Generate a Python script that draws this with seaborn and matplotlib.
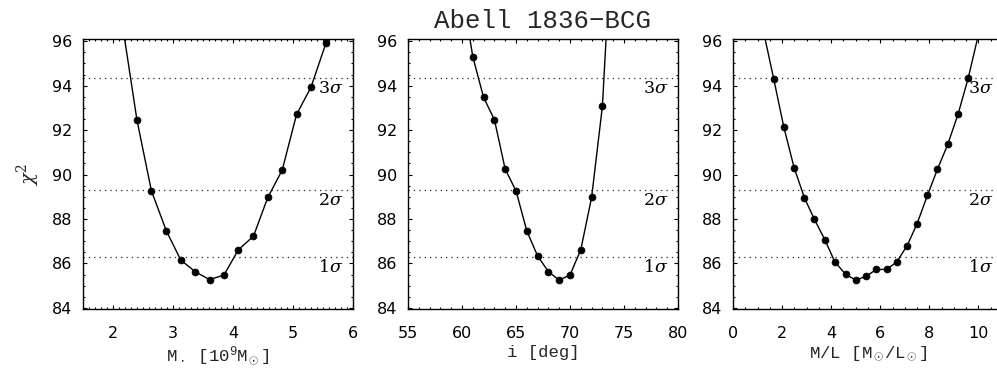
import matplotlib
matplotlib.use("Agg")
import matplotlib.pyplot as plt
import seaborn as sns
import numpy as np
from matplotlib.ticker import MultipleLocator, AutoMinorLocator

# ---- data ----
mbh_x = [2.16, 2.40, 2.64, 2.89, 3.13, 3.37, 3.61, 3.85, 4.09, 4.34, 4.58, 4.82, 5.06, 5.30, 5.55, 5.79]
mbh_chi2 = [96.7, 92.44, 89.27, 87.46, 86.15, 85.63, 85.27, 85.48, 86.62, 87.22, 88.97, 90.20, 92.71, 93.93, 95.92, 98.4]

inc_x = [60, 61, 62, 63, 64, 65, 66, 67, 68, 69, 70, 71, 72, 73, 74]
inc_chi2 = [98.3, 95.30, 93.47, 92.47, 90.24, 89.27, 87.46, 86.34, 85.63, 85.25, 85.48, 86.62, 88.97, 93.07, 102.0]

ml_x = [1.24, 1.66, 2.07, 2.49, 2.91, 3.32, 3.74, 4.15, 4.59, 5.01, 5.43, 5.84, 6.26, 6.67, 7.09,
        7.50, 7.92, 8.33, 8.75, 9.17, 9.58, 10.0]
ml_chi2 = [96.45, 94.30, 92.14, 90.31, 88.95, 87.98, 87.07, 86.07, 85.51, 85.25, 85.43, 85.73, 85.73, 86.07,
           86.79, 87.79, 89.06, 90.24, 91.36, 92.72, 94.33, 96.3]

sigma_levels = [86.3, 89.3, 94.35]
sigma_labels = [r"1$\sigma$", r"2$\sigma$", r"3$\sigma$"]

xlabels = [r"M$_\bullet$ [10$^9$M$_\odot$]", "i [deg]", r"M/L [M$_\odot$/L$_\odot$]"]
title = "Abell 1836\u2212BCG"
ylabel = r"$\chi^2$"

xlims = [(1.5, 6.0), (55, 80), (0, 11)]
xmajor = [1, 5, 2]
xminor = [10, 5, 4]

# ---- style ----
sns.set_style("ticks")
plt.rcParams["font.family"] = ["Liberation Mono", "DejaVu Sans"]
plt.rcParams["mathtext.fontset"] = "custom"
plt.rcParams["mathtext.rm"] = "Liberation Mono"
plt.rcParams["mathtext.it"] = "Liberation Mono:italic"
plt.rcParams["mathtext.bf"] = "Liberation Mono:bold"

W, H = 997, 383
fig = plt.figure(figsize=(W / 100, H / 100), dpi=100)

lefts = [83, 408, 733]
axw, top, bot = 270, 39, 309
axes = []
for l in lefts:
    ax = fig.add_axes([l / W, (H - bot) / H, axw / W, (bot - top) / H])
    axes.append(ax)

datasets = [(mbh_x, mbh_chi2), (inc_x, inc_chi2), (ml_x, ml_chi2)]

for i, (ax, (xs, ys)) in enumerate(zip(axes, datasets)):
    sns.lineplot(x=xs, y=ys, ax=ax, color="black", linewidth=1.0, marker="o",
                 markersize=5.0, markeredgecolor="black", markeredgewidth=0.5,
                 sort=False, estimator=None)
    for lev, lab in zip(sigma_levels, sigma_labels):
        ax.axhline(lev, color="0.15", linewidth=0.9, linestyle=(0, (1, 3.3)))
        ax.text(0.965, lev - 0.1, lab, transform=ax.get_yaxis_transform(),
                ha="right", va="top", fontsize=12.5, color="black",
                family=["DejaVu Serif"], math_fontfamily="dejavuserif")
    ax.set_xlim(*xlims[i])
    ax.set_ylim(83.95, 96.1)
    ax.xaxis.set_major_locator(MultipleLocator(xmajor[i]))
    ax.xaxis.set_minor_locator(AutoMinorLocator(xminor[i]))
    ax.yaxis.set_major_locator(MultipleLocator(2))
    ax.yaxis.set_minor_locator(AutoMinorLocator(4))
    ax.tick_params(which="both", direction="in", top=True, right=True, colors="black",
                   width=0.8)
    ax.tick_params(which="major", length=3.2, labelsize=11.5)
    ax.tick_params(which="minor", length=1.6)
    ax.tick_params(axis="x", which="major", pad=12)
    ax.tick_params(axis="y", which="major", pad=7.5)
    for lbl in ax.get_xticklabels() + ax.get_yticklabels():
        lbl.set_family(["DejaVu Sans"])
    for sp in ax.spines.values():
        sp.set_linewidth(1.0)
        sp.set_color("black")
    ax.set_xlabel(xlabels[i], fontsize=12.5, labelpad=3)

axes[0].set_ylabel(ylabel, fontsize=14, labelpad=7, family=["DejaVu Serif"],
                   math_fontfamily="dejavuserif")
axes[1].set_title(title, fontsize=18.5, pad=8)

fig.savefig("out.png", dpi=100)
